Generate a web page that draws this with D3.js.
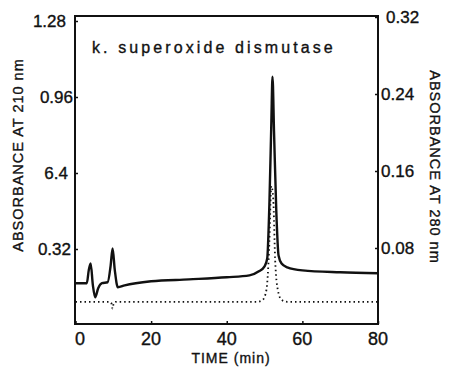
<!DOCTYPE html>
<html>
<head>
<meta charset="utf-8">
<script src="https://cdn.jsdelivr.net/npm/d3@7"></script>
<style>
  body { margin: 0; background: #fff; }
  svg { display: block; }
  text { font-family: "Liberation Sans", Arial, sans-serif; fill: #111; stroke: #111; stroke-width: 0.35px; }
</style>
</head>
<body>
<div id="chart"></div>
<script>
// absorbance at 210 nm (solid trace, left axis)
const time210 = [0, 3, 3.5, 4, 4.6, 5.2, 6, 7, 8.5, 9.3, 9.8, 10.4, 11.2, 13, 20, 30, 40, 46, 48.5, 50, 50.7, 51.3, 51.8, 52.1, 52.5, 53.1, 53.7, 54.5, 56, 60, 70, 80];
const abs210 = [0.176, 0.176, 0.230, 0.259, 0.167, 0.117, 0.155, 0.176, 0.180, 0.251, 0.322, 0.230, 0.159, 0.167, 0.184, 0.192, 0.201, 0.209, 0.226, 0.247, 0.280, 0.523, 0.858, 1.046, 0.816, 0.481, 0.293, 0.259, 0.243, 0.230, 0.222, 0.218];

// absorbance at 280 nm (dotted trace, right axis)
const time280 = [0, 9, 9.5, 9.8, 10.1, 10.6, 48, 49.5, 50.5, 51.2, 51.8, 52.3, 52.8, 53.5, 54.5, 56, 80];
const abs280 = [0.0241, 0.0241, 0.0225, 0.0170, 0.0225, 0.0241, 0.0241, 0.0261, 0.0366, 0.0784, 0.1443, 0.1307, 0.068, 0.0366, 0.0261, 0.0241, 0.0241];

const xTicks = [0, 20, 40, 60, 80];
const leftTicks = [0.32, 0.64, 0.96, 1.28];
const leftTickLabels = ["0.32", "6.4", "0.96", "1.28"];
const rightTicks = [0.08, 0.16, 0.24, 0.32];

const width = 452, height = 368;
const frame = { left: 75, right: 378, top: 16, bottom: 324 };

const svg = d3.select("#chart").append("svg")
    .attr("width", width)
    .attr("height", height);

const x = d3.scaleLinear().domain([0, 80]).range([75.5, 378]);
const yL = d3.scaleLinear().domain([0, 1.28]).range([325, 21]);
const yR = d3.scaleLinear().domain([0, 0.32]).range([325, 17]);

// frame
svg.append("rect")
    .attr("x", frame.left)
    .attr("y", frame.top)
    .attr("width", frame.right - frame.left)
    .attr("height", frame.bottom - frame.top)
    .attr("fill", "none")
    .attr("stroke", "#111")
    .attr("stroke-width", 2);

// axes (ticks point inward, labels drawn separately)
const axB = svg.append("g")
    .attr("transform", "translate(0," + frame.bottom + ")")
    .call(d3.axisTop(x).tickValues(xTicks).tickSize(3).tickFormat(""));
axB.select(".domain").remove();
xTicks.forEach(function(t) {
  svg.append("text")
      .attr("x", t == 0 ? 80 : x(t))
      .attr("y", 345)
      .attr("text-anchor", "middle")
      .style("font-size", "18px")
      .text(t);
});

const axL = svg.append("g")
    .attr("transform", "translate(" + frame.left + ",0)")
    .call(d3.axisRight(yL).tickValues(leftTicks).tickSize(3).tickFormat(""));
axL.select(".domain").remove();
const leftEnds = [71, 68, 73, 66];
leftTicks.forEach(function(t, i) {
  svg.append("text")
      .attr("x", leftEnds[i])
      .attr("y", yL(t))
      .attr("dy", "0.36em")
      .attr("text-anchor", "end")
      .style("font-size", "17px")
      .text(leftTickLabels[i]);
});

const axR = svg.append("g")
    .attr("transform", "translate(" + frame.right + ",0)")
    .call(d3.axisLeft(yR).tickValues(rightTicks).tickSize(3).tickFormat(""));
axR.select(".domain").remove();
rightTicks.forEach(function(t) {
  svg.append("text")
      .attr("x", t == 0.32 ? 386 : 381)
      .attr("y", yR(t))
      .attr("dy", "0.36em")
      .attr("text-anchor", "start")
      .style("font-size", "17px")
      .text(t.toFixed(2));
});

svg.selectAll(".tick line").attr("stroke", "#111").attr("stroke-width", 1.5);

// traces
const line210 = d3.line()
    .x(function(d, i) { return x(time210[i]); })
    .y(function(d) { return yL(d); })
    .curve(d3.curveMonotoneX);

const line280 = d3.line()
    .x(function(d, i) { return x(time280[i]); })
    .y(function(d) { return yR(d); })
    .curve(d3.curveMonotoneX);

svg.append("path")
    .attr("d", line280(abs280))
    .attr("fill", "none")
    .attr("stroke", "#111")
    .attr("stroke-width", 1.8)
    .attr("stroke-dasharray", "1.5,3");

svg.append("path")
    .attr("d", line210(abs210))
    .attr("fill", "none")
    .attr("stroke", "#111")
    .attr("stroke-width", 2.4)
    .attr("stroke-linejoin", "round");

// labels
svg.append("text")
    .attr("x", 92)
    .attr("y", 53)
    .style("font-size", "16px")
    .style("letter-spacing", "3.1px")
    .text("k. superoxide dismutase");

svg.append("text")
    .attr("transform", "translate(23,155) rotate(-90)")
    .attr("text-anchor", "middle")
    .style("font-size", "14.5px")
    .style("letter-spacing", "1px")
    .text("ABSORBANCE AT 210 nm");

svg.append("text")
    .attr("transform", "translate(430,167) rotate(90)")
    .attr("text-anchor", "middle")
    .style("font-size", "14.5px")
    .style("letter-spacing", "1px")
    .text("ABSORBANCE AT 280 nm");

svg.append("text")
    .attr("x", 231)
    .attr("y", 363)
    .attr("text-anchor", "middle")
    .style("font-size", "14px")
    .style("letter-spacing", "1px")
    .text("TIME (min)");
</script>
</body>
</html>
